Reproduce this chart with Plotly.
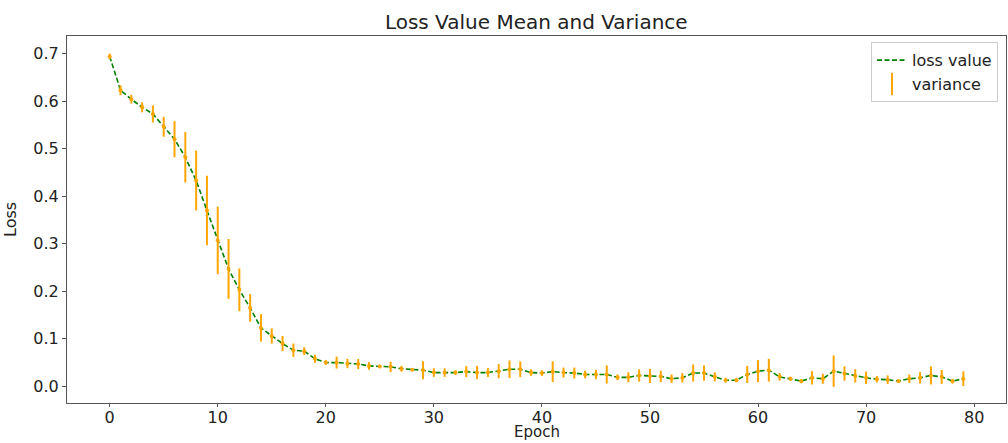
import plotly.graph_objects as go

epochs = list(range(80))
loss_mean = [
    0.694, 0.623, 0.604, 0.587, 0.573, 0.546, 0.520, 0.482, 0.433, 0.370,
    0.307, 0.247, 0.203, 0.165, 0.123, 0.106, 0.090, 0.076, 0.074, 0.058,
    0.050, 0.050, 0.048, 0.047, 0.043, 0.042, 0.041, 0.037, 0.035, 0.034,
    0.029, 0.029, 0.029, 0.031, 0.029, 0.029, 0.032, 0.036, 0.036, 0.029,
    0.028, 0.031, 0.029, 0.028, 0.025, 0.025, 0.025, 0.019, 0.019, 0.023,
    0.022, 0.021, 0.016, 0.018, 0.028, 0.028, 0.020, 0.013, 0.013, 0.025,
    0.032, 0.034, 0.020, 0.016, 0.011, 0.018, 0.016, 0.032, 0.027, 0.022,
    0.018, 0.015, 0.014, 0.011, 0.016, 0.018, 0.023, 0.020, 0.011, 0.016,
]
loss_var = [
    0.006, 0.0105, 0.009, 0.0105, 0.018, 0.021, 0.038, 0.053, 0.063, 0.073,
    0.071, 0.063, 0.045, 0.029, 0.029, 0.016, 0.016, 0.014, 0.008, 0.0085,
    0.005, 0.0126, 0.0098, 0.0105, 0.008, 0.0035, 0.011, 0.006, 0.003, 0.019,
    0.009, 0.009, 0.005, 0.0115, 0.014, 0.0095, 0.015, 0.0185, 0.0165, 0.007,
    0.006, 0.0217, 0.0105, 0.0115, 0.008, 0.0098, 0.019, 0.006, 0.0105, 0.013,
    0.015, 0.012, 0.009, 0.010, 0.018, 0.016, 0.0095, 0.005, 0.004, 0.018,
    0.023, 0.024, 0.008, 0.0045, 0.004, 0.014, 0.0105, 0.033, 0.015, 0.014,
    0.013, 0.0067, 0.009, 0.004, 0.009, 0.012, 0.019, 0.0147, 0.005, 0.0155,
]
x_ticks = [0, 10, 20, 30, 40, 50, 60, 70, 80]
y_ticks = [0.0, 0.1, 0.2, 0.3, 0.4, 0.5, 0.6, 0.7]

FONT = "DejaVu Sans"
GREEN = "#008000"
ORANGE = "#FFA500"

fig = go.Figure()
fig.add_trace(go.Scatter(
    x=epochs, y=loss_mean, mode="lines", name="loss value",
    line=dict(color=GREEN, width=1.6, dash="5px,2.5px"),
))
fig.add_trace(go.Scatter(
    x=epochs, y=loss_mean, mode="markers", name="variance", showlegend=False,
    marker=dict(color=ORANGE, size=4),
    error_y=dict(type="data", array=loss_var, visible=True, color=ORANGE,
                 thickness=2, width=0),
))
# legend sample for the variance series
fig.add_trace(go.Scatter(
    x=[None], y=[None], mode="markers", name="variance",
    marker=dict(color=ORANGE, size=16, symbol="line-ns",
                line=dict(color=ORANGE, width=2)),
))

axis_common = dict(
    showgrid=False, zeroline=False, showline=True, linecolor="#555",
    linewidth=1, mirror=True, ticks="outside", tickcolor="#555",
    tickfont=dict(family=FONT, size=16, color="#222"), automargin=False,
)
fig.update_layout(
    width=1008, height=443,
    margin=dict(l=67, r=2, t=36, b=40, autoexpand=False),
    paper_bgcolor="white", plot_bgcolor="white",
    font=dict(family=FONT, color="#222"),
    title=dict(text="Loss Value Mean and Variance", x=0.532, xanchor="center",
               y=0.95, yanchor="middle",
               font=dict(family=FONT, size=20, color="#222")),
    xaxis=dict(range=[-3.95, 82.95], tickvals=x_ticks, ticklen=3,
               ticklabelstandoff=-3, **axis_common),
    yaxis=dict(range=[-0.035, 0.737], tickvals=y_ticks, tickformat=".1f",
               ticklen=4, **axis_common),
    legend=dict(x=0.9915, y=0.983, xanchor="right", yanchor="top",
                bgcolor="white", bordercolor="#ccc", borderwidth=1,
                font=dict(family=FONT, size=16, color="#222")),
    showlegend=True,
    annotations=[
        dict(text="Epoch", xref="paper", yref="paper", x=0.5, y=-0.108,
             xanchor="center", yanchor="bottom", showarrow=False,
             font=dict(family=FONT, size=15, color="#222")),
        dict(text="Loss", xref="paper", yref="paper", x=-0.048, y=0.5,
             xanchor="right", yanchor="middle", textangle=-90, showarrow=False,
             font=dict(family=FONT, size=16, color="#222")),
    ],
)

fig.write_html(
    "out.html",
    config={"displayModeBar": False},
    post_script="document.body.style.margin='0';document.body.style.overflow='hidden';",
)
